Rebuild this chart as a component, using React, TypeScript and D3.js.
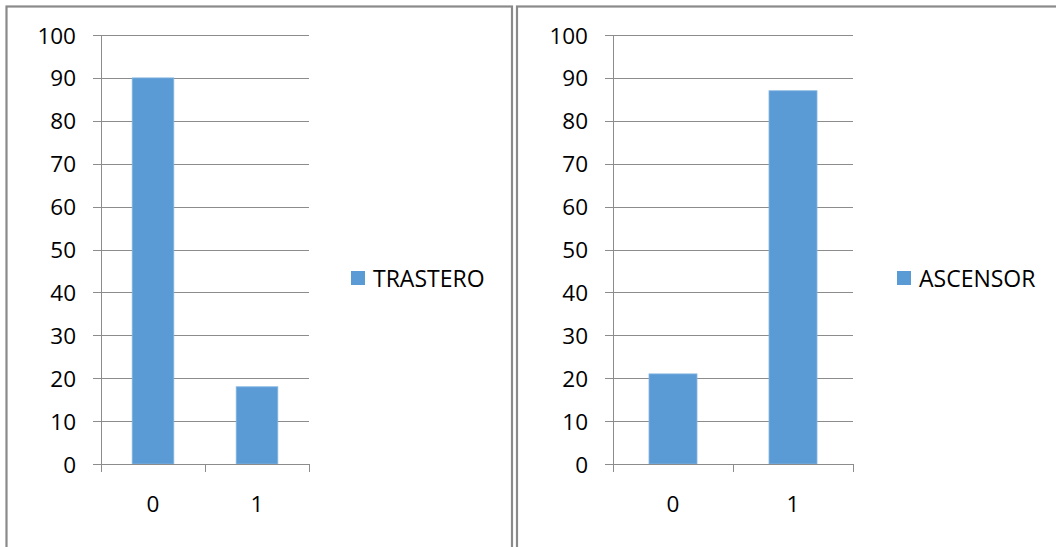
import React from "react";
import * as d3 from "d3";

const categories = ["0", "1"];
const trasteroValues = [90, 18];
const ascensorValues = [21, 87];
const yTicks = [0, 10, 20, 30, 40, 50, 60, 70, 80, 90, 100];
const seriesNames = ["TRASTERO", "ASCENSOR"];

const BAR = "#5B9BD5";
const BAR_EDGE = "#84B4E0";
const GRID = "#8C8C8C";
const FONT = "'Open Sans', Lato, sans-serif";

type PanelProps = {
  frameX: number;
  frameW: number;
  axisX: number;
  plotRight: number;
  legendX: number;
  values: number[];
  name: string;
};

const Y_TOP = 35;
const Y_BOTTOM = 464;

function Panel({ frameX, frameW, axisX, plotRight, legendX, values, name }: PanelProps) {
  const y = d3.scaleLinear().domain([0, 100]).range([Y_BOTTOM, Y_TOP]);
  const x = d3.scaleBand<string>().domain(categories).range([axisX, plotRight]).padding(0);
  const bw = x.bandwidth() * 0.4;
  return (
    <g>
      <rect x={frameX} y={6.5} width={frameW} height={600} fill="#fff" stroke="#8a8a8a" strokeWidth={2.2} />
      {yTicks.map((t) => (
        <g key={t}>
          {t > 0 && (
            <line x1={axisX} x2={plotRight} y1={Math.round(y(t)) + 0.5} y2={Math.round(y(t)) + 0.5} stroke={GRID} strokeWidth={1} />
          )}
          <line x1={axisX - 8} x2={axisX} y1={Math.round(y(t)) + 0.5} y2={Math.round(y(t)) + 0.5} stroke={GRID} strokeWidth={1} />
          <text x={axisX - 25} y={y(t) + 8.5} textAnchor="end" fontFamily={FONT} fontSize={22.5} fill="#000">
            {t}
          </text>
        </g>
      ))}
      {categories.map((c, i) => (
        <rect
          key={c}
          x={(x(c) as number) + (x.bandwidth() - bw) / 2}
          y={y(values[i])}
          width={bw}
          height={y(0) - y(values[i])}
          fill={BAR}
          stroke={BAR_EDGE}
          strokeWidth={0.8}
        />
      ))}
      <line x1={axisX + 0.5} x2={axisX + 0.5} y1={Y_TOP} y2={Y_BOTTOM} stroke={GRID} strokeWidth={1} />
      <line x1={axisX} x2={plotRight} y1={Y_BOTTOM + 0.5} y2={Y_BOTTOM + 0.5} stroke={GRID} strokeWidth={1} />
      {[...categories.map((c) => x(c) as number), plotRight].map((tx, i) => (
        <line key={i} x1={Math.round(tx) + 0.5} x2={Math.round(tx) + 0.5} y1={Y_BOTTOM} y2={Y_BOTTOM + 8} stroke={GRID} strokeWidth={1} />
      ))}
      {categories.map((c) => (
        <text
          key={c}
          x={(x(c) as number) + x.bandwidth() / 2}
          y={511.5}
          textAnchor="middle"
          fontFamily={FONT}
          fontSize={22.5}
          fill="#000"
        >
          {c}
        </text>
      ))}
      <rect x={legendX} y={271} width={14} height={14} fill={BAR} />
      <text x={legendX + 22} y={286.5} fontFamily={FONT} fontSize={23} fill="#000">
        {name}
      </text>
    </g>
  );
}

export default function App() {
  return (
    <svg
      width={1056}
      height={547}
      style={{ position: "absolute", left: 0, top: 0, display: "block", background: "#fff" }}
    >
      <rect x={0} y={0} width={1056} height={547} fill="#fff" />
      <Panel frameX={6.5} frameW={505.5} axisX={101} plotRight={309} legendX={351} values={trasteroValues} name={seriesNames[0]} />
      <Panel frameX={517} frameW={600} axisX={613} plotRight={853} legendX={897} values={ascensorValues} name={seriesNames[1]} />
    </svg>
  );
}
